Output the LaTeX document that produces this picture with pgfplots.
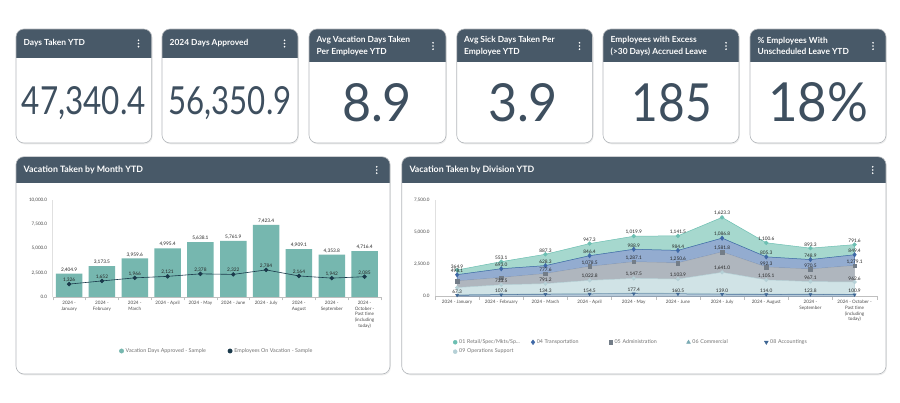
\documentclass[border=0pt]{standalone}
\usepackage{pgfplots}
\pgfplotsset{compat=1.18}
\usepackage{fontspec}
\setmainfont{Lato}
\definecolor{hdr}{HTML}{485968}
\definecolor{cardb}{HTML}{B4B8BC}
\definecolor{numc}{HTML}{3E4F5F}
\definecolor{barc}{HTML}{76B7AF}
\definecolor{navy}{HTML}{1B3A4B}
\definecolor{retf}{HTML}{A6D8CE}
\definecolor{retl}{HTML}{6CBFB2}
\definecolor{traf}{HTML}{93ACD0}
\definecolor{tral}{HTML}{3F68A6}
\definecolor{admf}{HTML}{AFB6BE}
\definecolor{adml}{HTML}{737D88}
\definecolor{opsf}{HTML}{D0E3E6}
\definecolor{opsl}{HTML}{B5D0D6}
\definecolor{comf}{HTML}{C2DBDE}
\definecolor{coml}{HTML}{7AABB4}
\definecolor{accf}{HTML}{C8D9E4}
\definecolor{accl}{HTML}{3D6593}
\newcommand{\card}[5]{%
  \fill[black!7, rounded corners=8pt] (#1+0.8,402-#4-1.3) rectangle (#3+0.8,402-#2-1.3);
  \begin{scope}
    \clip[rounded corners=8pt] (#1,402-#4) rectangle (#3,402-#2);
    \fill[white] (#1,402-#4) rectangle (#3,402-#2);
    \fill[hdr] (#1,402-#5) rectangle (#3,402-#2);
  \end{scope}
  \draw[cardb, rounded corners=8pt, line width=0.6pt] (#1,402-#4) rectangle (#3,402-#2);
}
\newcommand{\menudots}[2]{%
  \fill[white] (#1,402-#2+3.2) circle (0.95);
  \fill[white] (#1,402-#2) circle (0.95);
  \fill[white] (#1,402-#2-3.2) circle (0.95);
}
\pgfplotsset{dashax/.style={
  scale only axis, anchor=south west, clip=false,
  xmin=-0.5, xmax=9.5, ymin=0, scaled y ticks=false,
  axis x line*=bottom, axis y line*=left,
  x axis line style={-, draw=black!25, line width=0.5pt},
  y axis line style={-, draw=black!12, line width=0.5pt},
  xtick={0,...,9}, major tick length=0pt,
  minor xtick={-0.5,0.5,...,9.5}, minor tick length=3.5pt, tick align=outside,
  every minor tick/.append style={draw=black!25, line width=0.4pt},
  tick label style={font=\fontsize{4.6}{5.8}\selectfont, text=black!70},
  xticklabel style={align=center, yshift=-0.5pt},
  yticklabel style={xshift=-2pt},
  nodes near coords style={font=\fontsize{4.8}{5.5}\selectfont, text=black!85, inner sep=1.6pt},
}}
\begin{document}
\begin{tikzpicture}[x=1pt,y=1pt]
\useasboundingbox (0,0) rectangle (900,402);
\fill[white] (0,0) rectangle (900,402);
% KPI cards
\card{16}{29}{151.7}{143}{58}
\card{162}{29}{298}{143}{58}
\card{309}{29}{446}{143}{62.5}
\card{456.7}{29}{592.7}{143}{62.5}
\card{603}{29}{739}{143}{62.5}
\card{750}{29}{886}{143}{62.5}
\menudots{138.5}{43.5}
\menudots{284.5}{43.5}
\menudots{433}{46}
\menudots{579.5}{46}
\menudots{726}{46}
\menudots{873}{46}
\begin{scope}[every node/.style={text=white, font=\bfseries\fontsize{8.4}{11.2}\selectfont, align=left, anchor=west, inner sep=0pt}]
\node at (23.5,402-43.5) {Days Taken YTD};
\node at (169.5,402-43.5) {2024 Days Approved};
\node at (316.5,402-46) {Avg Vacation Days Taken\\Per Employee YTD};
\node at (464,402-46) {Avg Sick Days Taken Per\\Employee YTD};
\node at (610.5,402-46) {Employees with Excess\\(>30 Days) Accrued Leave};
\node at (757.5,402-46) {\% Employees With\\Unscheduled Leave YTD};
\end{scope}
\begin{scope}[every node/.style={text=numc, anchor=base, inner sep=0pt}]
\node at (83.8,402-115) {\resizebox{124pt}{28pt}{\fontsize{40}{40}\selectfont 47,340.4}};
\node at (230,402-115) {\resizebox{123pt}{28pt}{\fontsize{40}{40}\selectfont 56,350.9}};
\node at (377,402-121.7) {\resizebox{70pt}{38pt}{\fontsize{50}{50}\selectfont 8.9}};
\node at (523,402-121.7) {\resizebox{70pt}{38pt}{\fontsize{50}{50}\selectfont 3.9}};
\node at (671.7,402-121.7) {\resizebox{80pt}{38pt}{\fontsize{50}{50}\selectfont 185}};
\node at (818,402-121.7) {\resizebox{100pt}{39pt}{\fontsize{50}{50}\selectfont 18\%}};
\end{scope}
% chart cards
\card{16}{156.7}{390}{374}{183.3}
\card{401.7}{156.7}{886}{374}{183.3}
\menudots{376.7}{170}
\menudots{872.7}{170}
\node[text=white, font=\bfseries\fontsize{8.8}{10}\selectfont, anchor=west, inner sep=0pt] at (23.5,402-170) {Vacation Taken by Month YTD};
\node[text=white, font=\bfseries\fontsize{8.8}{10}\selectfont, anchor=west, inner sep=0pt] at (409.3,402-170) {Vacation Taken by Division YTD};

% Left chart
\begin{axis}[dashax, at={(52.7pt,105pt)}, width=328.3pt, height=97.3pt,
  ymax=10000, ytick={0,2500,5000,7500,10000},
  yticklabels={0.0,{2,500.0},{5,000.0},{7,500.0},{10,000.0}},
  xticklabels={{2024 -\\January},{2024 -\\February},{2024 -\\March},{2024 - April},{2024 - May},{2024 - June},{2024 - July},{2024 -\\August},{2024 -\\September},{2024 -\\October -\\Past time\\(including\\today)}},
  legend columns=2,
  legend style={at={(0.5,-0.555)}, anchor=center, draw=none, fill=none,
    font=\fontsize{5.4}{6}\selectfont, text=black!55,
    /tikz/every even column/.append style={column sep=20pt}},
]
\addlegendimage{only marks, mark=*, mark size=2.2pt, color=barc}
\addlegendentry{Vacation Days Approved - Sample}
\addlegendimage{only marks, mark=*, mark size=2.2pt, color=navy}
\addlegendentry{Employees On Vacation - Sample}
\addplot[ybar, bar width=26.5pt, fill=barc, draw=none, nodes near coords, point meta=explicit symbolic]
 coordinates {(0,2404.9)[2,404.9] (1,3173.5)[3,173.5] (2,3959.6)[3,959.6] (3,4995.4)[4,995.4] (4,5638.1)[5,638.1]
 (5,5761.9)[5,761.9] (6,7423.4)[7,423.4] (7,4909.1)[4,909.1] (8,4353.8)[4,353.8] (9,4716.4)[4,716.4]};
\addplot[navy, line width=0.6pt, mark=*, mark size=1.9pt, nodes near coords, point meta=explicit symbolic]
 coordinates {(0,1326)[1,326] (1,1652)[1,652] (2,1966)[1,966] (3,2121)[2,121] (4,2378)[2,378]
 (5,2322)[2,322] (6,2784)[2,784] (7,2164)[2,164] (8,1942)[1,942] (9,2085)[2,085]};
\end{axis}

% Right chart
\begin{axis}[dashax, at={(435pt,106pt)}, width=441.7pt, height=96pt,
  ymax=7500, ytick={0,2500,5000,7500},
  yticklabels={0.0,{2,500.0},{5,000.0},{7,500.0}},
  xticklabels={{2024 - January},{2024 - February},{2024 - March},{2024 - April},{2024 - May},{2024 - June},{2024 - July},{2024 - August},{2024 -\\September},{2024 - October -\\Past time\\(including\\today)}},
  stack plots=y,
  legend columns=5,
  legend cell align=left,
  legend style={at={(0.034,-0.41)}, anchor=north west, draw=none, fill=none,
    font=\fontsize{5.3}{6}\selectfont, text=black!55,
    nodes={text width=70pt},
    /tikz/every odd column/.append style={column sep=0pt}},
]
\addlegendimage{only marks, mark=*, mark size=2pt, color=retl}
\addlegendentry{01 Retail/Spec/Mkts/Sp...}
\addlegendimage{only marks, mark=diamond*, mark size=2.4pt, color=tral}
\addlegendentry{04 Transportation}
\addlegendimage{only marks, mark=square*, mark size=1.9pt, color=adml}
\addlegendentry{05 Administration}
\addlegendimage{only marks, mark=triangle*, mark size=2.2pt, color=coml}
\addlegendentry{06 Commercial}
\addlegendimage{only marks, mark=triangle*, mark size=2.2pt, mark options={rotate=180}, color=accl}
\addlegendentry{08 Accountings}
\addlegendimage{only marks, mark=*, mark size=2pt, color=opsl}
\addlegendentry{09 Operations Support}
% 08 Accountings (bottom)
\addplot[draw=accl, fill=accf, line width=0.5pt, mark=triangle*, mark size=1.7pt, mark options={rotate=180, fill=accl, draw=accl},
  nodes near coords, point meta=explicit symbolic]
 coordinates {(0,67.3)[67.3] (1,107.6)[107.6] (2,134.3)[134.3] (3,154.5)[154.5] (4,177.4)[177.4]
 (5,160.5)[160.5] (6,139.0)[139.0] (7,114.0)[114.0] (8,123.8)[123.8] (9,100.9)[100.9]} \closedcycle;
% 06 Commercial
\addplot[draw=coml!60, fill=comf, line width=0.3pt]
 coordinates {(0,30) (1,35) (2,40) (3,45) (4,50) (5,60) (6,70) (7,40) (8,35) (9,30)} \closedcycle;
% 09 Operations Support
\addplot[draw=opsl, fill=opsf, line width=0.5pt, mark=*, mark size=1.8pt, mark options={fill=opsl, draw=opsl},
  nodes near coords, point meta=explicit symbolic]
 coordinates {(0,560)[{}] (1,733.5)[733.5] (2,791.2)[791.2] (3,1022.8)[1,022.8] (4,1147.5)[1,147.5]
 (5,1103.9)[1,103.9] (6,1641.0)[1,641.0] (7,1105.1)[1,105.1] (8,967.1)[967.1] (9,962.6)[962.6]} \closedcycle;
% 05 Administration
\addplot[draw=adml!60, fill=admf, line width=0.5pt, mark=square*, mark size=1.8pt, mark options={fill=adml, draw=adml},
  nodes near coords, point meta=explicit symbolic]
 coordinates {(0,510)[{}] (1,560)[{}] (2,777.6)[777.6] (3,1078.5)[1,078.5] (4,1287.1)[1,287.1]
 (5,1250.6)[1,250.6] (6,1581.8)[1,581.8] (7,992.3)[992.3] (8,970.5)[970.5] (9,1279.1)[1,279.1]} \closedcycle;
% 04 Transportation
\addplot[draw=tral, fill=traf, line width=0.5pt, mark=diamond*, mark size=2.2pt, mark options={fill=tral, draw=tral},
  nodes near coords, point meta=explicit symbolic]
 coordinates {(0,498.1)[498.1] (1,693.0)[693.0] (2,628.3)[628.3] (3,846.4)[846.4] (4,988.9)[988.9]
 (5,984.4)[984.4] (6,1086.8)[1,086.8] (7,805.3)[805.3] (8,748.9)[748.9] (9,849.4)[849.4]} \closedcycle;
% 01 Retail
\addplot[draw=retl, fill=retf, line width=0.5pt, mark=*, mark size=1.9pt, mark options={fill=retl, draw=retl},
  nodes near coords, point meta=explicit symbolic]
 coordinates {(0,364.9)[364.9] (1,553.1)[553.1] (2,887.3)[887.3] (3,947.3)[947.3] (4,1019.9)[1,019.9]
 (5,1141.5)[1,141.5] (6,1623.3)[1,623.3] (7,1100.6)[1,100.6] (8,893.3)[893.3] (9,791.6)[791.6]} \closedcycle;
\end{axis}
\end{tikzpicture}
\end{document}
